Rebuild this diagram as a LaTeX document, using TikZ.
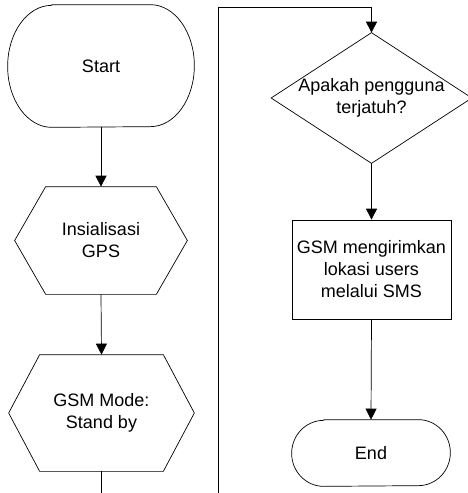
\documentclass[tikz,border=0pt]{standalone}
\usepackage{fontspec}
\setmainfont{Liberation Sans}
\usetikzlibrary{arrows.meta}

\begin{document}
\begin{tikzpicture}[x=1pt, y=-1pt, line width=0.7pt,
	every node/.style={font=\fontsize{18}{22}\selectfont, align=center, inner sep=0pt},
	arr/.style={-{Triangle[width=11pt,length=11pt]}},
	term/.style n args={2}{append after command={
		([xshift=#1]\tikzlastnode.north west) -- ([xshift=-#1]\tikzlastnode.north east)
		arc[start angle=90, end angle=-90, x radius=#1, y radius=#2] -- ([xshift=#1]\tikzlastnode.south west)
		arc[start angle=270, end angle=90, x radius=#1, y radius=#2] -- cycle}},
	hexa/.style={minimum width=#1, append after command={
		(\tikzlastnode.west) -- ([xshift=31pt]\tikzlastnode.north west) -- ([xshift=-31pt]\tikzlastnode.north east)
		-- (\tikzlastnode.east) -- ([xshift=-31pt]\tikzlastnode.south east) -- ([xshift=31pt]\tikzlastnode.south west) -- cycle}},
	dia/.style={append after command={
		(\tikzlastnode.north) -- (\tikzlastnode.east) -- (\tikzlastnode.south) -- (\tikzlastnode.west) -- cycle}}]
	\useasboundingbox (0,0) rectangle (467,493);

	\path [draw] (101,66) node [term={44pt}{61pt}, minimum width=186pt, minimum height=122pt] (start) {Start};
	\path [draw] (101,240.5) node [hexa=172pt, minimum height=107pt] (init) {Insialisasi\\GPS};
	\path [draw] (101.5,413) node [hexa=185pt, minimum height=116pt] (gsm) {GSM Mode:\\Stand by};
	\coordinate (down) at (101.5,493);

	\draw [arr] (start.south) -- (init.north);
	\draw [arr] (init.south) -- (gsm.north);
	\draw (gsm.south) -- (down);

	\path [draw] (371.5,98) node [dia, minimum width=200pt, minimum height=130pt] (fall) {Apakah pengguna\\terjatuh?};
	\node [draw, minimum width=159pt, minimum height=99pt] (sms) at (371.5,269.5) {GSM mengirimkan\\lokasi users\\melalui SMS};
	\path [draw] (371,453) node [term={32pt}{33pt}, minimum width=158pt, minimum height=66pt] (end) {End};
	\coordinate (up) at (218,493);
	\coordinate (loop) at (218,7);

	\draw [arr] (up) -- (loop) -| (fall.north);
	\draw [arr] (fall.south) -- (sms.north);
	\draw [arr] (sms.south) -- (end.north);
\end{tikzpicture}
\end{document}
